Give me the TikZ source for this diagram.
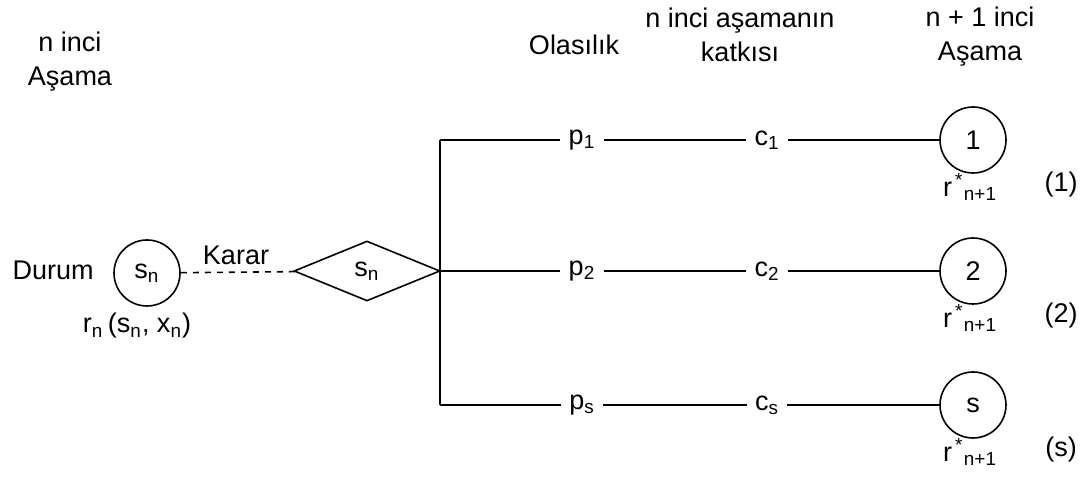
\documentclass[tikz,border=0pt]{standalone}
\usepackage{fontspec}
\setmainfont{Liberation Sans}
\usetikzlibrary{shapes.geometric, positioning}
\tikzset{
  lbl/.style      = {font=\fontsize{13.5}{17}\selectfont, inner sep=1pt},
  head/.style     = {lbl, align=center},
  gaplbl/.style   = {lbl, inner xsep=4pt},
  statenode/.style = {draw, thick, circle, minimum size=33pt, inner sep=0pt, lbl},
  decision/.style = {draw, thick, diamond, minimum width=73pt, minimum height=30pt, inner sep=0pt, lbl},
  branch/.style   = {thick, black},
}
\newcommand{\sub}[1]{\textsubscript{#1}}
\newcommand{\rstar}{r\textsuperscript{\,*}\kern-0.1em\textsubscript{\,n+1}}

\begin{document}
\begin{tikzpicture}[x=0.5pt, y=-0.5pt]
  \useasboundingbox (0,0) rectangle (1087,491);
  % column headings
  \node[head] (hstage)  at (70,62)  {n inci\\Aşama};
  \node[head] (hprob)   at (574,45) {Olasılık};
  \node[head] (hcontr)  at (740,35) {n inci aşamanın\\katkısı};
  \node[head] (hnext)   at (980,37) {n + 1 inci\\Aşama};
  % stage n
  \node[statenode] (sn) at (147,273) {s\sub{n}};
  \node[lbl, anchor=east] (durum) at (96,270) {Durum};
  \node[lbl] (karar) at (236,255) {Karar};
  \node[lbl] (rn) at (137,326) {r\sub{n}\,(s\sub{n}, x\sub{n})};
  \node[decision] (dec) at (367,271) {s\sub{n}};
  \draw[thick, dashed] (sn) -- (dec);
  % branches
  \coordinate (top) at (440,140);
  \coordinate (bot) at (440,405);
  \draw[branch] (top) -- (bot);
  \foreach \y/\k/\i in {140/1/1, 271/2/2, 405/s/3} {
    \coordinate (j\i) at (440,\y);
    \node[gaplbl] (p\i) at (582,\y) {p\sub{\k}};
    \node[gaplbl] (c\i) at (767,\y) {c\sub{\k}};
    \node[statenode] (s\i) at (973,\y) {\k};
    \node[lbl] (r\i) at (970,\y+47) {\rstar};
    \node[lbl] (n\i) at (1061,\y+45) {(\k)};
    \draw[branch] (j\i) -- (p\i);
    \draw[branch] (p\i) -- (c\i);
    \draw[branch] (c\i) -- (s\i);
  }
\end{tikzpicture}
\end{document}
